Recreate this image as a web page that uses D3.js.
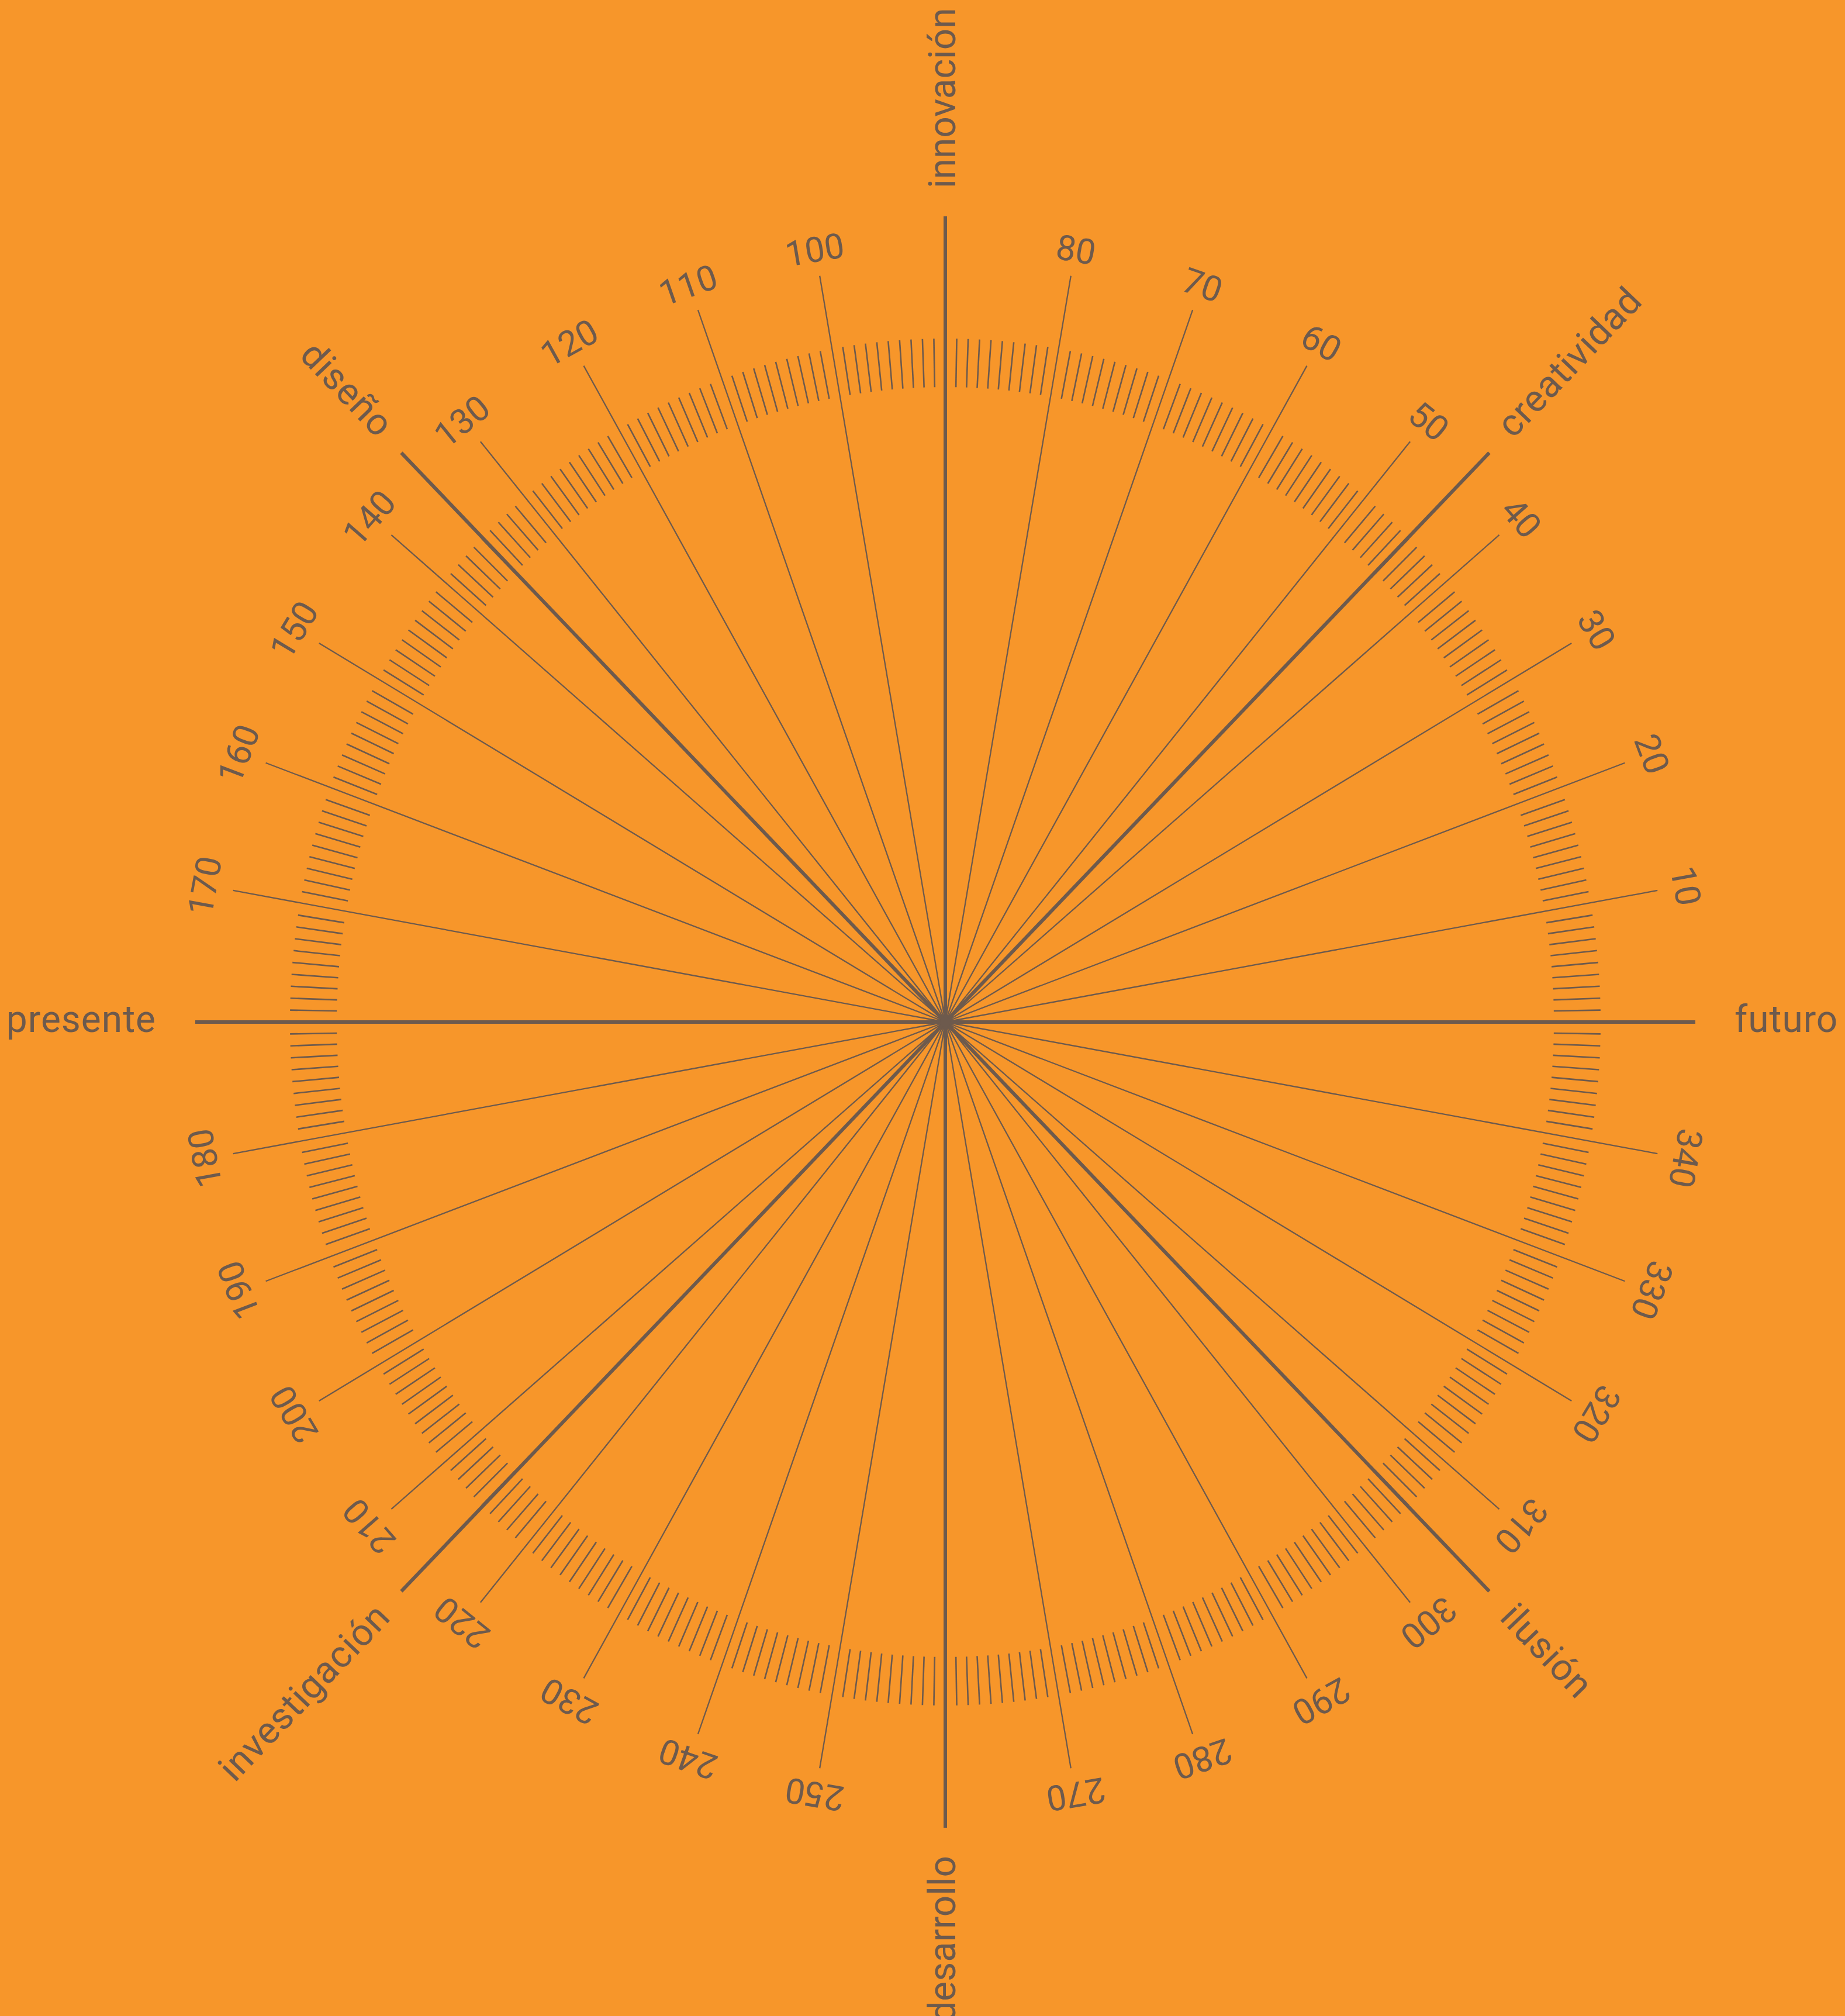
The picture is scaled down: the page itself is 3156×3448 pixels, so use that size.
<!DOCTYPE html>
<html><head><meta charset="utf-8">
<script src="https://cdn.jsdelivr.net/npm/d3@7"></script>
<style>html,body{margin:0;padding:0;background:#F7962A;} svg{display:block}</style>
</head><body>
<script>
// ---- data ----
const axisAngles = [0, 45, 90, 135, 180, 225, 270, 315];
const axisNames = ["futuro", "creatividad", "innovación", "diseño", "presente", "investigación", "desarrollo", "ilusión"];
const spokeAngles = [10,20,30,40,50,60,70,80,100,110,120,130,140,150,160,170,190,200,210,220,230,240,250,260,280,290,300,310,320,330,340,350];
const spokeLabels = ["10","20","30","40","50","60","70","80","100","110","120","130","140","150","160","170","180","190","200","210","220","230","240","250","270","280","290","300","310","320","330","340"];
const tickAngles = d3.range(0, 360, 1).filter(a => a % 10 !== 0);

// ---- layout ----
const W = 3156, H = 3448, cx = 1617, cy = 1748;
const ink = "#6D5A4D", bg = "#F7962A";
const ang = d3.scaleLinear().domain([0, 360]).range([0, 2 * Math.PI]);
const R = {
  tickIn: [1041, 1086], tickOut: [1121, 1169],
  spoke: [1237, 1296], num: [1287, 1342],
  majorAxis: [1283, 1378], majorDiag: [1316, 1377],
  nameAxis: [1350, 1426], nameDiag: [1356, 1426]
};
const majorR = a => (a % 90 === 0 ? R.majorAxis : R.majorDiag);
const nameR = a => (a % 90 === 0 ? R.nameAxis : R.nameDiag);
function pt(a, r) { const t = ang(a); return [cx + r[0] * Math.cos(t), cy - r[1] * Math.sin(t)]; }
function screenDeg(a, r) { const t = ang(a); return Math.atan2(r[1] * Math.sin(t), r[0] * Math.cos(t)) * 180 / Math.PI; }

const svg = d3.select("body").append("svg").attr("width", W).attr("height", H);
svg.append("rect").attr("width", W).attr("height", H).attr("fill", bg);

// ticks
svg.append("g").selectAll("line").data(tickAngles).join("line")
  .attr("x1", d => pt(d, R.tickIn)[0]).attr("y1", d => pt(d, R.tickIn)[1])
  .attr("x2", d => pt(d, R.tickOut)[0]).attr("y2", d => pt(d, R.tickOut)[1])
  .attr("stroke", ink).attr("stroke-width", 2.6);

// minor spokes
svg.append("g").selectAll("line").data(spokeAngles).join("line")
  .attr("x1", cx).attr("y1", cy)
  .attr("x2", d => pt(d, R.spoke)[0]).attr("y2", d => pt(d, R.spoke)[1])
  .attr("stroke", ink).attr("stroke-width", 2.3);

// major spokes
svg.append("g").selectAll("line").data(axisAngles).join("line")
  .attr("x1", cx).attr("y1", cy)
  .attr("x2", d => pt(d, majorR(d))[0]).attr("y2", d => pt(d, majorR(d))[1])
  .attr("stroke", ink).attr("stroke-width", 6);

svg.append("circle").attr("cx", cx).attr("cy", cy).attr("r", 9).attr("fill", ink);

// number labels
svg.append("g").selectAll("text").data(spokeAngles).join("text")
  .attr("transform", d => { const p = pt(d, R.num); return `translate(${p[0]},${p[1]}) rotate(${90 - screenDeg(d, R.num)})`; })
  .attr("text-anchor", "middle").attr("dy", "0.36em")
  .attr("font-family", "Roboto, 'DejaVu Sans', sans-serif").attr("font-size", 60)
  .attr("fill", ink)
  .text((d, i) => spokeLabels[i]);

// axis names
svg.append("g").selectAll("text").data(axisAngles).join("text")
  .attr("transform", d => {
    const p = pt(d, nameR(d));
    const sd = screenDeg(d, majorR(d));
    const flip = d > 90 && d <= 270;
    const rot = flip ? 180 - sd : -sd;
    return `translate(${p[0]},${p[1]}) rotate(${rot})`;
  })
  .attr("text-anchor", d => (d > 90 && d <= 270) ? "end" : "start")
  .attr("dy", "0.27em")
  .attr("font-family", "Roboto, 'DejaVu Sans', sans-serif").attr("font-size", 64)
  .attr("letter-spacing", d => (d % 180 === 90 ? 0 : 1))
  .attr("fill", ink)
  .text((d, i) => axisNames[i]);
</script>
</body></html>
